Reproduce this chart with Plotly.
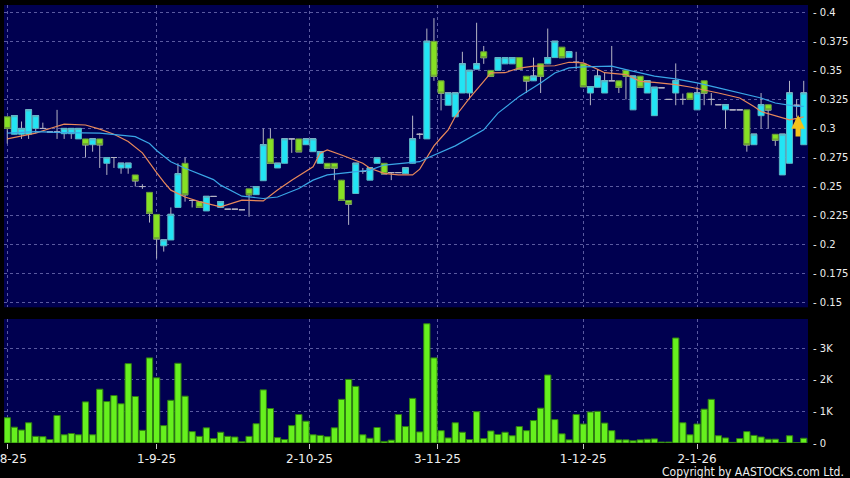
import plotly.graph_objects as go

# ---------------- data ----------------
open_ = [0.310, 0.295, 0.295, 0.295, 0.300, 0.300, 0.297, 0.297, 0.2955, 0.2955,
         0.291, 0.291, 0.286, 0.291, 0.270, 0.275, 0.266, 0.266, 0.260, 0.250,
         0.245, 0.226, 0.199, 0.204, 0.232, 0.270, 0.238, 0.237, 0.229, 0.2415,
         0.232, 0.2305, 0.2305, 0.230, 0.248, 0.243, 0.255, 0.291, 0.266, 0.270,
         0.291, 0.291, 0.286, 0.280, 0.270, 0.270, 0.270, 0.2555, 0.238, 0.244,
         0.263, 0.2555, 0.270, 0.270, 0.262, 0.262, 0.261, 0.270, 0.295, 0.291,
         0.375, 0.341, 0.320, 0.310, 0.3305, 0.3305, 0.351, 0.366, 0.350, 0.350,
         0.3556, 0.3556, 0.361, 0.345, 0.341, 0.3556, 0.3556, 0.361, 0.370, 0.361,
         0.357, 0.3556, 0.3305, 0.3354, 0.3305, 0.341, 0.341, 0.350, 0.316, 0.345,
         0.3305, 0.311, 0.335, 0.325, 0.3305, 0.325, 0.3305, 0.316, 0.341, 0.325,
         0.3204, 0.316, 0.316, 0.316, 0.316, 0.286, 0.311, 0.3204, 0.295, 0.260,
         0.270, 0.320, 0.286]
high = [0.310, 0.311, 0.306, 0.316, 0.311, 0.305, 0.297, 0.316, 0.300, 0.300,
        0.300, 0.291, 0.291, 0.291, 0.275, 0.275, 0.270, 0.270, 0.260, 0.252,
        0.245, 0.226, 0.204, 0.232, 0.270, 0.275, 0.238, 0.237, 0.2415, 0.2415,
        0.237, 0.2305, 0.2305, 0.230, 0.248, 0.250, 0.300, 0.300, 0.270, 0.291,
        0.291, 0.291, 0.291, 0.291, 0.280, 0.270, 0.270, 0.2555, 0.238, 0.270,
        0.266, 0.266, 0.275, 0.270, 0.262, 0.262, 0.266, 0.311, 0.296, 0.386,
        0.395, 0.341, 0.3305, 0.3305, 0.366, 0.350, 0.391, 0.371, 0.350, 0.361,
        0.361, 0.361, 0.361, 0.345, 0.361, 0.3556, 0.386, 0.375, 0.370, 0.366,
        0.366, 0.3556, 0.336, 0.351, 0.348, 0.371, 0.341, 0.350, 0.345, 0.345,
        0.341, 0.3354, 0.335, 0.325, 0.356, 0.330, 0.3305, 0.336, 0.341, 0.3305,
        0.3204, 0.3204, 0.316, 0.316, 0.316, 0.295, 0.3305, 0.3204, 0.295, 0.295,
        0.341, 0.325, 0.341]
low = [0.287, 0.295, 0.291, 0.291, 0.296, 0.300, 0.297, 0.291, 0.291, 0.291,
       0.291, 0.275, 0.280, 0.266, 0.260, 0.266, 0.261, 0.261, 0.250, 0.248,
       0.219, 0.188, 0.194, 0.204, 0.232, 0.237, 0.232, 0.232, 0.229, 0.2415,
       0.232, 0.2305, 0.2305, 0.230, 0.224, 0.243, 0.255, 0.270, 0.266, 0.270,
       0.279, 0.280, 0.286, 0.280, 0.270, 0.266, 0.2555, 0.238, 0.217, 0.244,
       0.261, 0.2555, 0.270, 0.261, 0.2555, 0.262, 0.261, 0.270, 0.291, 0.291,
       0.341, 0.3155, 0.320, 0.310, 0.3305, 0.325, 0.351, 0.3556, 0.345, 0.350,
       0.3556, 0.3556, 0.351, 0.3305, 0.341, 0.3305, 0.3556, 0.361, 0.361, 0.361,
       0.351, 0.336, 0.320, 0.3354, 0.3305, 0.341, 0.3305, 0.325, 0.316, 0.3354,
       0.3305, 0.311, 0.335, 0.325, 0.320, 0.3204, 0.325, 0.316, 0.320, 0.320,
       0.3204, 0.300, 0.316, 0.316, 0.280, 0.286, 0.300, 0.300, 0.285, 0.260,
       0.270, 0.310, 0.286]
close = [0.300, 0.311, 0.300, 0.316, 0.311, 0.300, 0.297, 0.297, 0.300, 0.300,
         0.300, 0.286, 0.291, 0.286, 0.275, 0.275, 0.270, 0.270, 0.255, 0.250,
         0.227, 0.205, 0.204, 0.226, 0.261, 0.243, 0.238, 0.232, 0.2415, 0.2415,
         0.237, 0.2305, 0.2305, 0.230, 0.243, 0.250, 0.286, 0.270, 0.270, 0.291,
         0.291, 0.280, 0.291, 0.291, 0.280, 0.266, 0.266, 0.238, 0.235, 0.270,
         0.263, 0.266, 0.275, 0.261, 0.262, 0.262, 0.266, 0.291, 0.295, 0.375,
         0.345, 0.3305, 0.3305, 0.3305, 0.3556, 0.350, 0.3556, 0.361, 0.345, 0.361,
         0.361, 0.361, 0.351, 0.341, 0.345, 0.345, 0.361, 0.375, 0.361, 0.366,
         0.357, 0.336, 0.336, 0.345, 0.341, 0.341, 0.3354, 0.345, 0.345, 0.3354,
         0.341, 0.3354, 0.335, 0.325, 0.341, 0.325, 0.325, 0.3305, 0.3305, 0.325,
         0.3204, 0.3204, 0.316, 0.316, 0.286, 0.295, 0.3204, 0.316, 0.290, 0.295,
         0.3305, 0.320, 0.3305]
volume_k = [0.80, 0.50, 0.41, 0.64, 0.21, 0.20, 0.11, 0.87, 0.26, 0.30,
            0.26, 1.30, 0.26, 1.70, 1.31, 1.50, 1.24, 2.51, 1.47, 0.40,
            2.69, 2.06, 0.55, 1.35, 2.52, 1.48, 0.36, 0.21, 0.48, 0.14,
            0.34, 0.21, 0.19, 0.04, 0.21, 0.61, 1.68, 1.09, 0.17, 0.11,
            0.55, 0.90, 0.69, 0.26, 0.24, 0.20, 0.48, 1.38, 2.01, 1.79,
            0.26, 0.15, 0.49, 0.05, 0.09, 0.90, 0.52, 1.41, 0.35, 3.77,
            2.69, 0.39, 0.16, 0.64, 0.34, 0.11, 0.99, 0.14, 0.38, 0.27,
            0.34, 0.23, 0.52, 0.39, 0.71, 1.10, 2.15, 0.74, 0.29, 0.10,
            0.90, 0.60, 0.98, 1.00, 0.63, 0.39, 0.10, 0.10, 0.07, 0.10,
            0.12, 0.13, 0.03, 0.03, 3.32, 0.64, 0.26, 0.60, 1.07, 1.38,
            0.23, 0.16, 0.02, 0.14, 0.36, 0.24, 0.19, 0.12, 0.12, 0.01,
            0.23, 0.01, 0.15]

ma10_idx = [0, 4, 6, 8, 11, 13, 15, 17, 19, 20, 21, 22, 23, 25, 27, 30, 33, 36, 38, 40,
            43, 44, 45, 47, 50, 51, 53, 55, 57, 58, 59, 60, 61, 62, 63, 65, 67, 68, 70, 72,
            74, 77, 79, 81, 83, 84, 87, 89, 91, 94, 96, 98, 100, 103, 105, 106, 109, 110, 112]
ma10_val = [0.291, 0.296, 0.300, 0.3037, 0.303, 0.2994, 0.295, 0.2887, 0.279, 0.270,
            0.262, 0.254, 0.2469, 0.241, 0.237, 0.2325, 0.2383, 0.2376, 0.247, 0.2555,
            0.267, 0.2786, 0.2815, 0.2772, 0.270, 0.2657, 0.2613, 0.260, 0.260, 0.265,
            0.275, 0.285, 0.292, 0.2988, 0.3103, 0.3262, 0.3406, 0.3478, 0.348, 0.352,
            0.3536, 0.354, 0.357, 0.3565, 0.351, 0.348, 0.3464, 0.3406, 0.3397, 0.3377,
            0.3357, 0.3334, 0.3305, 0.3262, 0.319, 0.3146, 0.3089, 0.3074, 0.310]
ma20_idx = [0, 4, 8, 13, 18, 20, 21, 22, 23, 25, 27, 29, 30, 33, 36, 38, 41, 43, 45, 48,
            51, 53, 56, 58, 59, 61, 63, 67, 69, 72, 75, 77, 79, 81, 83, 85, 87, 89, 91, 94,
            97, 100, 103, 106, 108, 111, 112]
ma20_val = [0.296, 0.2973, 0.2965, 0.296, 0.293, 0.287, 0.281, 0.276, 0.2714, 0.2657,
            0.2607, 0.256, 0.2512, 0.2417, 0.2397, 0.241, 0.2483, 0.2555, 0.260, 0.2619,
            0.2642, 0.2685, 0.270, 0.2714, 0.2743, 0.280, 0.285, 0.2988, 0.3132, 0.3276,
            0.3392, 0.3478, 0.3522, 0.353, 0.3536, 0.3536, 0.3507, 0.348, 0.345, 0.3427,
            0.3392, 0.335, 0.3305, 0.3262, 0.3219, 0.319, 0.319]

date_tick_pos = [0, 21, 42.5, 60.5, 81, 97]
date_tick_text = ["1-8-25", "1-9-25", "2-10-25", "3-11-25", "1-12-25", "2-1-26"]
price_ticks = [0.15, 0.175, 0.2, 0.225, 0.25, 0.275, 0.3, 0.325, 0.35, 0.375, 0.4]
price_tick_text = ["0.15", "0.175", "0.2", "0.225", "0.25", "0.275", "0.3", "0.325",
                   "0.35", "0.375", "0.4"]
vol_ticks = [0, 1, 2, 3]
vol_tick_text = ["0", "1K", "2K", "3K"]
last_signal_idx = 111.2
last_signal_price = 0.3116

# ---------------- styles ----------------
NAVY = "#000050"
GRID = "#5a5aa0"
CYAN = "#22e4f4"
CYAN_EDGE = "#5ab4c4"
LIME = "#86e024"
LIME_EDGE = "#6a9a3a"
WICK = "#b4b4c4"
VOL = "#66f01e"
VOL_EDGE = "#2f7d12"
TXT = "#eeeeee"

x = list(range(len(close)))
up = [i for i in x if close[i] > open_[i]]
dn = [i for i in x if close[i] < open_[i]]

fig = go.Figure()

# wicks and flat (open == close) dashes
fig.add_trace(go.Candlestick(
    x=x, open=close, high=high, low=low, close=close,
    increasing=dict(line=dict(color=WICK, width=1), fillcolor=WICK),
    decreasing=dict(line=dict(color=WICK, width=1), fillcolor=WICK),
    hoverinfo="skip", showlegend=False, xaxis="x", yaxis="y"))

for idx, fill, edge in ((up, CYAN, CYAN_EDGE), (dn, LIME, LIME_EDGE)):
    fig.add_trace(go.Candlestick(
        x=idx,
        open=[open_[i] for i in idx],
        close=[close[i] for i in idx],
        high=[max(open_[i], close[i]) for i in idx],
        low=[min(open_[i], close[i]) for i in idx],
        increasing=dict(line=dict(color=edge, width=1), fillcolor=fill),
        decreasing=dict(line=dict(color=edge, width=1), fillcolor=fill),
        hoverinfo="skip", showlegend=False, xaxis="x", yaxis="y"))

fig.add_trace(go.Scatter(x=ma10_idx, y=ma10_val, mode="lines",
                         line=dict(color="#e8885a", width=1.2),
                         showlegend=False, xaxis="x", yaxis="y"))
fig.add_trace(go.Scatter(x=ma20_idx, y=ma20_val, mode="lines",
                         line=dict(color="#3aa6e6", width=1.2),
                         showlegend=False, xaxis="x", yaxis="y"))

fig.add_trace(go.Bar(x=x, y=volume_k, marker=dict(color=VOL, line=dict(color=VOL_EDGE, width=1)),
                     showlegend=False, xaxis="x2", yaxis="y2"))

xr = [-0.46, 112.6]
common_x = dict(range=xr, showgrid=True, gridcolor=GRID, griddash="3px,3px", gridwidth=1,
                zeroline=False, showline=False, tickvals=date_tick_pos, ticktext=date_tick_text,
                automargin=False)

fig.update_layout(
    width=850, height=478,
    margin=dict(l=4, r=42, t=5, b=35, autoexpand=False),
    paper_bgcolor="#000000", plot_bgcolor=NAVY,
    font=dict(family="DejaVu Sans", color=TXT, size=12),
    boxgap=0.08, boxgroupgap=0.08, bargap=0.12,
    showlegend=False,
    xaxis=dict(common_x, anchor="y", showticklabels=False, ticks="",
               rangeslider=dict(visible=False)),
    xaxis2=dict(common_x, anchor="y2", matches="x", ticks="outside", ticklen=5,
                tickcolor="#c8c8c8", tickfont=dict(size=12, family="DejaVu Sans", color=TXT),
                ticklabeloverflow="allow", rangeslider=dict(visible=False)),
    yaxis=dict(domain=[0.3098, 1], range=[0.14604, 0.40628], side="right", anchor="x",
               tickvals=price_ticks, ticktext=["- " + t for t in price_tick_text],
               ticks="", ticklabelstandoff=4, automargin=False, ticklabeloverflow="allow",
               tickfont=dict(size=10, family="DejaVu Sans", color=TXT),
               showgrid=True, gridcolor=GRID, griddash="3px,3px", zeroline=False),
    yaxis2=dict(domain=[0, 0.2831], range=[0, 3.92], side="right", anchor="x2",
                tickvals=vol_ticks, ticktext=["- " + t for t in vol_tick_text],
                ticks="", ticklabelstandoff=4, automargin=False, ticklabeloverflow="allow",
                tickfont=dict(size=10, family="DejaVu Sans", color=TXT),
                showgrid=True, gridcolor=GRID, griddash="3px,3px", zeroline=False),
    annotations=[
        dict(text="Copyright by AASTOCKS.com Ltd.", xref="paper", yref="paper",
             x=1.0476, y=-0.0655, xanchor="right", yanchor="middle", showarrow=False,
             font=dict(family="Liberation Sans Narrow, DejaVu Sans Condensed", size=12, color=TXT)),
        dict(text="", x=last_signal_idx, y=last_signal_price, xref="x", yref="y",
             showarrow=True, ax=0, ay=23, arrowhead=2, arrowsize=0.55, arrowwidth=5,
             arrowcolor="#f2c21b"),
    ],
)

fig.write_html("out.html",
               config={"displayModeBar": False},
               post_script="document.body.style.margin='0';document.body.style.padding='0';"
                           "document.body.style.background='#000';")
